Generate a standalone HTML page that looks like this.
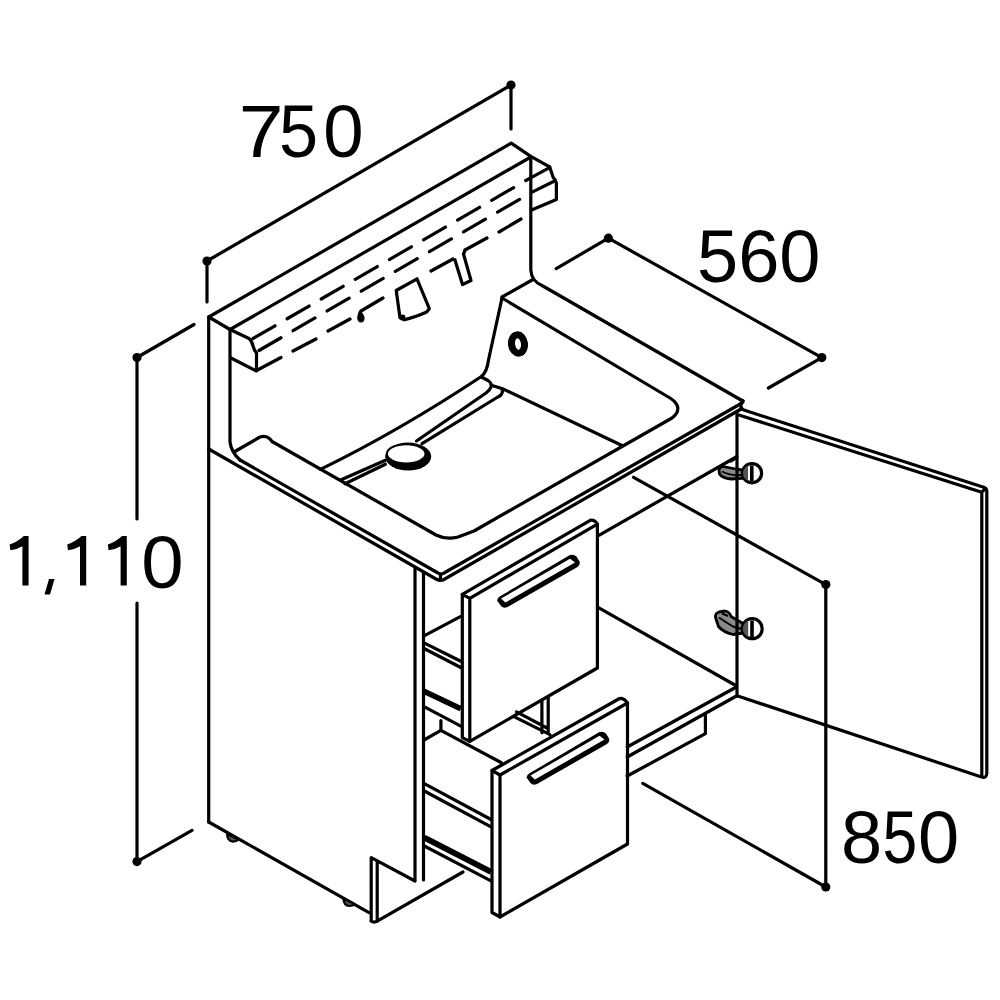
<!DOCTYPE html>
<html><head><meta charset="utf-8"><style>
html,body{margin:0;padding:0;background:#fff;width:1000px;height:1000px;overflow:hidden}
svg{display:block}
</style></head><body>
<svg width="1000" height="1000" viewBox="0 0 1000 1000">
<g fill="none" stroke="#000" stroke-width="3.2" stroke-linecap="round" stroke-linejoin="round">
<!-- ===== DIMENSIONS ===== -->
<!-- 750 -->
<path d="M207,261 L511,85 M207,261 L207,302 M511,85 L511,129"/>
<!-- 560 -->
<path d="M608.4,238.2 L821.8,357.6 M608.4,238.2 L556.2,268.6 M821.8,357.6 L768.4,388"/>
<!-- 1110 -->
<path d="M137,357.5 L137,519 M137,603 L137,861.6 M137,357.5 L194,324.5 M137,861.6 L192,830.4"/>
<!-- 850 -->
<path d="M825.8,584.6 L825.8,887 M825.8,584.6 L633.6,477.3 M825.8,887 L642.8,783.4"/>
</g>
<g fill="#000">
<circle cx="207" cy="261" r="4.6"/><circle cx="511" cy="85" r="4.6"/>
<circle cx="608.4" cy="238.2" r="4.6"/><circle cx="821.8" cy="357.6" r="4.6"/>
<circle cx="137" cy="357.5" r="4.6"/><circle cx="137" cy="861.6" r="4.6"/>
<circle cx="825.8" cy="584.6" r="4.6"/><circle cx="825.8" cy="887" r="4.6"/>
</g>
<g font-family="Liberation Sans" font-size="74" fill="#000">
<text transform="translate(238.85,157) scale(1.0875,1)">7</text>
<text transform="translate(279,157) scale(0.95,1)">5</text>
<text transform="translate(323.35,157) scale(0.98,1)">0</text>
<text x="697" y="281.5">560</text>
<text x="841" y="863">8</text>
<text transform="translate(882.6,863) scale(0.844,1)">5</text>
<text x="918.1" y="863">0</text>
<text transform="translate(141.3,587.5) scale(1.03,1)">0</text>
<path d="M28.6,585.5 L22.40,585.5 L22.40,546.2 Q17.6,549.3 10.40,550.2 L9.60,544.6 Q18.6,541.2 23.8,536 L28.6,536 Z M86.2,585.5 L80.0,585.5 L80.0,546.2 Q75.2,549.3 68.0,550.2 L67.2,544.6 Q76.2,541.2 81.4,536 L86.2,536 Z M126.8,585.5 L120.6,585.5 L120.6,546.2 Q115.8,549.3 108.6,550.2 L107.8,544.6 Q116.8,541.2 122.0,536 L126.8,536 Z M44.5,594.5 L49,579 L54.5,579 L50,594.5 Z"/>
</g>

<g fill="none" stroke="#000" stroke-width="3.2" stroke-linecap="round" stroke-linejoin="round">
<!-- ===== BACKSPLASH ===== -->
<path d="M208.7,822 L208.7,317 L511.2,143.2 L530.8,156.4 L549.6,166.8"/>
<path d="M208.7,317 L230,329.5 L530.8,157"/>
<path d="M230,329.5 L230,442 Q231,452 240,460"/>
<path d="M530.8,157 L530.8,270 Q531.5,281 542,285.5 L741,400"/>
<path d="M533,279.5 L502,297"/>
<!-- rail left end face -->
<path d="M230,329.5 L249,338.5 Q252,341 253,346 Q254,350 256.5,353 L256.5,371 L231,358"/>
<!-- rail right profile -->
<path d="M549.6,166.8 L553.2,177.5 Q556,180 556.4,183 L556.4,199.6 L531.6,210"/>
<path d="M526,180.4 L549.6,167.6 M531.6,192.4 L554,181.2"/>
</g>
<!-- rail dashes -->
<g fill="none" stroke="#000" stroke-width="3.2" stroke-linecap="round">
<path d="M253,338.5 L526,180.4" stroke-dasharray="25.4 14"/>
<path d="M259,350.5 L531.6,192.4" stroke-dasharray="25.4 14"/>
<path d="M256.5,370.5 L281,357.5 M293,351 L316,339 M328,331 L350,319 M361,311 L383,298 M431,271 L453,259 M465,250 L487,238 M499,232 L521,219"/>
</g>
<!-- hanging items -->
<g fill="none" stroke="#000" stroke-width="3.2" stroke-linejoin="round">
<path d="M396.2,290.5 L417,278.8 L429.3,308.7 L426.7,312 Q418,316 404.6,319.8 L400,317.8 Z"/>
<path d="M454.5,258.5 L462.5,284.5 L471,280.5 L463.5,254 L465,250.5"/>
</g>
<g fill="#000">
<path d="M359,311 Q356,318 358,321 Q361,324 364,321 Q366,317 361,311 Z"/>
<circle cx="402.5" cy="317.5" r="3"/>
</g>

<g fill="none" stroke="#000" stroke-width="3.2" stroke-linecap="round" stroke-linejoin="round">
<!-- ===== COUNTER / SINK ===== -->
<!-- side panel top edge (P) and counter top left edge (Q) -->
<path d="M208.7,449 L436,579 Q440,581 443,580 L742,408.5"/>
<path d="M240,460 L438,573 Q441,575 444,573 L742,403 Q745,400 741,400"/>
<path d="M741,403 L741,409 M440.5,574.5 L440.5,580.5"/>
<!-- basin rim -->
<path d="M234,452 L260,437 Q266,435 270,439 L272,441.5 L436,535 Q446,540 458,537 L474,531 L672,418 Q680,412 677,405 Q675,401 670,398 L502,298"/>
<!-- back wall right edge -->
<path d="M502,298 L488.5,360 Q487,372 481.4,376.5"/>
<!-- basin back-bottom edge -->
<path d="M481.4,376.5 Q399,431 320.4,469.4"/>
<!-- floor right edge -->
<path d="M502.3,388.6 L622,445.5"/>
<!-- groove -->
<path d="M481.4,377 L488,380.5 Q492,383 491,387 Q490,390 486,393 L416.5,441"/>
<path d="M491.3,385.3 L501,388.2 Q504,391 501,395 Q500,396 497,397.5 L422,443.6"/>
<path d="M385.4,460.3 L341.2,479.8 M385.4,464.2 L345,483.7"/>
</g>
<!-- drain -->
<ellipse cx="408.2" cy="456.6" rx="23" ry="14" fill="#000"/>
<ellipse cx="406.2" cy="453.8" rx="19.3" ry="9.6" fill="#fff" stroke="#000" stroke-width="2"/>
<!-- overflow -->
<ellipse cx="518" cy="344" rx="6.5" ry="9.2" fill="none" stroke="#000" stroke-width="7" transform="rotate(-7 518 344)"/>

<g fill="none" stroke="#000" stroke-width="3.2" stroke-linecap="round" stroke-linejoin="round">
<!-- ===== CABINET BODY ===== -->
<path d="M415,567 L415,880 M423.5,573 L423.5,880"/>
<path d="M208.7,822 L369,912.6"/>
<path d="M371.2,921 L371.2,857.6 L415,881 M377.2,861 L377.2,921.2 L463,872"/>
<path d="M371.2,921 Q374,923 377.2,921.2"/>
<!-- feet -->
<path d="M227,834 Q227.5,841.3 233,841.6 Q236.8,841.6 238.3,839.6 Z" fill="#555" stroke-width="2.2"/>
<path d="M343.3,898.4 Q343.8,905.7 349.3,906 Q353.1,906 354.6,904 Z" fill="#555" stroke-width="2.2"/>
<!-- front interior lines -->
<path d="M598.9,535.3 L737,456.5"/>
<path d="M598.9,607.8 L736.6,686"/>
<path d="M736.4,687 L627.2,747 M736.4,696 L627.2,757 M705.4,714.5 L705.4,733.7 L627.2,776"/>
<!-- door -->
<path d="M742.4,409.6 L984.5,487.6 Q986.8,488.6 986.8,491 L986.8,773.5 Q986.5,778.5 981.5,777 L737.8,696"/>
<path d="M739.6,415.2 L981.8,492.2 L981.8,776 M981.8,492.2 L985.5,488.5"/>
</g>
<!-- hinges -->
<g id="hinge1" stroke-linejoin="round">
<path fill="#8a8a8a" stroke="#000" stroke-width="2.8" d="M719,470.5 Q719,466.5 723,466.5 L736,469 L745,470.5 L745.5,478 L731,479 Q722,478 719.5,474 Z"/>
<path fill="none" stroke="#000" stroke-width="2" d="M722,471.5 Q731,476.5 744,474.5"/>
<path fill="none" stroke="#000" stroke-width="2.6" d="M730,462 L736.5,458"/>
<circle cx="752" cy="473.2" r="9.6" fill="#fff" stroke="#000" stroke-width="3.2"/>
<path fill="#555" d="M748,465.5 Q743,468 743,473.2 Q743,478.5 748,481 Z"/>
<path fill="none" stroke="#000" stroke-width="3.6" d="M751.8,465.5 L751.8,481"/>
</g>
<g id="hinge2" stroke-linejoin="round">
<path fill="#8a8a8a" stroke="#000" stroke-width="2.8" d="M716,619 Q714,613.5 719,612 L725,611 Q730,612 731,616.5 L744,624 L746,632.5 L733,634.5 Q723,632 718.5,626.5 Z"/>
<path fill="none" stroke="#000" stroke-width="2" d="M719,617.5 Q727,623 733,626.5 Q739,629.5 745,628.5 M722,613.5 L728,616"/>
<circle cx="752.2" cy="628.7" r="10" fill="#fff" stroke="#000" stroke-width="3.2"/>
<path fill="#555" d="M748.2,620.5 Q742.8,623.5 742.8,628.7 Q742.8,634 748.2,637 Z"/>
<path fill="none" stroke="#000" stroke-width="3.6" d="M752,620.5 L752,637"/>
</g>
<path d="M737,412 L737,696" fill="none" stroke="#000" stroke-width="3.2" stroke-linecap="round"/>
<g fill="none" stroke="#000" stroke-width="3.2" stroke-linecap="round" stroke-linejoin="round">
<!-- ===== UPPER DRAWER ===== -->
<path d="M462.3,594.3 L590.7,520.2 Q595,519.8 597.4,524.2 L597.4,668 L469.8,741.4 L462.3,737.6 Z"/>
<path d="M462.3,594.3 L469.8,598.3 L597.4,524.2 M469.8,598.3 L469.8,741.4"/>
<!-- upper drawer box through gap -->
<path d="M424,635.9 L460.8,616.3 M424,642.9 L460.8,661.2 M424,648.5 L460.8,667.5 M424,706.6 L460.8,726.2"/>
<path d="M424,691.2 L460.8,708.7" stroke-width="5.6" stroke-linecap="butt"/>
<path d="M424,740 L440.9,730.4 L440.9,720.6 M440.9,730.4 L501,762.5"/>
<!-- ===== LOWER DRAWER ===== -->
<path d="M492,770.5 L619.5,698.5 Q624,698 627.5,703 L627.5,844 L500,917 L492,912.5 Z"/>
<path d="M492,770.5 L500,775 L627.5,703 M500,775 L500,917"/>
<!-- lower drawer box -->
<path d="M514,716.6 L550,734.6 M516.5,711.8 L548,728.5 M541.9,700.5 L541.9,732.8 M548.2,697 L548.2,732.8"/>
<path d="M424.3,783.6 L491,819.5 M424.3,791 L491,826.8 M424.3,846 L491,880.8"/>
<path d="M424.3,837.6 L491,871.8" stroke-width="5.8" stroke-linecap="butt"/>
</g>
<!-- handles -->
<g id="hdl">
<path fill="#000" d="M497,600.5 Q497.5,597.5 500,596.3 L569.5,555.3 Q573.5,554 576.5,556.5 L579.5,561.5 Q580.5,565 577.5,567 L507.5,607 Q503.5,608.8 501,606 Z"/>
<path fill="#fff" d="M501,598.6 L570,558.8 L575,562.4 L505.4,602.6 Z"/>
</g>
<use href="#hdl" transform="translate(29.5,177)"/>
</svg>
</body></html>
